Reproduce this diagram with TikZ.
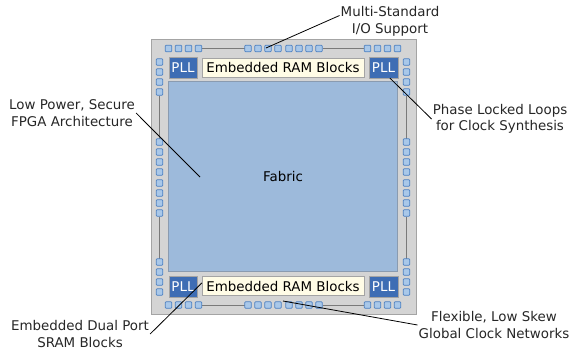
\documentclass[tikz,border=0pt]{standalone}
\usepackage{fontspec}
\setmainfont{DejaVu Sans}
\usetikzlibrary{positioning}
\definecolor{chipgray}{HTML}{D4D4D4}
\definecolor{chipedge}{HTML}{A4A4A4}
\definecolor{fabricblue}{HTML}{9DBADB}
\definecolor{fabricedge}{HTML}{8A9BB0}
\definecolor{pllblue}{HTML}{3E6DB4}
\definecolor{ramcream}{HTML}{FFFCE6}
\definecolor{padfill}{HTML}{A9C8E9}
\definecolor{padedge}{HTML}{4C80C2}
\definecolor{wiregray}{HTML}{7A7A7A}
\tikzset{
  pad/.style={draw=padedge,fill=padfill,line width=0.7pt,minimum size=6.5pt,inner sep=0pt,rounded corners=0.8pt},
  pll/.style={draw=chipedge,fill=pllblue,text=white,minimum width=28.5pt,minimum height=21pt,inner sep=0pt},
  ram/.style={draw=chipedge,fill=ramcream,minimum width=162pt,minimum height=19pt,inner sep=0pt},
  callout/.style={align=center,inner sep=1pt,text=black!85},
  leader/.style={draw=black,line width=0.8pt}
}
\begin{document}
\begin{tikzpicture}[x=1pt,y=-1pt,font=\fontsize{13.4}{16.5}\selectfont]
\useasboundingbox (0,0) rectangle (571,349);
% chip outline
\draw[fill=chipgray,draw=chipedge,line width=1pt] (151,39) rectangle (416,314);
% wires between pad groups
\draw[wiregray,line width=0.8pt] (202,48.5) -- (244.5,48.5) (322.5,48.5) -- (364,48.5);
\draw[wiregray,line width=0.8pt] (202,305) -- (244.5,305) (322.5,305) -- (364,305);
\draw[wiregray,line width=0.8pt] (159.5,95.5) -- (159.5,138.5) (159.5,216.5) -- (159.5,258.5);
\draw[wiregray,line width=0.8pt] (406.5,95.5) -- (406.5,138.5) (406.5,216.5) -- (406.5,258.5);
% pads
\foreach \x in {168.5,178.5,188.5,198.5,248,258,268,278,289,299,309,319,367.5,377.5,387.5,397.5} {
  \node[pad] at (\x,48.5) {};
  \node[pad] at (\x,305) {};
}
\foreach \y in {62,72,82,92,142,152,162,172,183,193,203,213,262,272,282,292} {
  \node[pad] at (159.5,\y) {};
  \node[pad] at (406.5,\y) {};
}
% core
\node[draw=fabricedge,fill=fabricblue,minimum width=229pt,minimum height=190pt,inner sep=0pt,line width=0.8pt] (fabric) at (283,176) {Fabric};
\node[pll] (pllTL) at (183,67.5) {PLL};
\node[pll] (pllTR) at (383.5,67.5) {PLL};
\node[pll] (pllBL) at (183,287) {PLL};
\node[pll] (pllBR) at (383.5,287) {PLL};
\node[ram] (ramT) at (283,67.5) {Embedded RAM Blocks};
\node[ram] (ramB) at (283,286) {Embedded RAM Blocks};
% callouts
\node[callout] (iolbl) at (390,21.5) {Multi-Standard\\I/O Support};
\node[callout] (archlbl) at (72,113) {Low Power, Secure\\FPGA Architecture};
\node[callout] (plllbl) at (500,119) {Phase Locked Loops\\for Clock Synthesis};
\node[callout] (sramlbl) at (80,334) {Embedded Dual Port\\SRAM Blocks};
\node[callout] (clklbl) at (494,325) {Flexible, Low Skew\\Global Clock Networks};
\coordinate (iopad) at (266,48);
\coordinate (archpt) at (200,177);
\coordinate (clkpt) at (283,301);
\draw[leader] ([yshift=6]iolbl.west) -- (iopad);
\draw[leader] (archlbl.east) -- (archpt);
\draw[leader] (plllbl.west) -- ([xshift=6.5]pllTR.south);
\draw[leader] (sramlbl.east) -- ([yshift=3]ramB.west);
\draw[leader] (clklbl.west) -- (clkpt);
\end{tikzpicture}
\end{document}
